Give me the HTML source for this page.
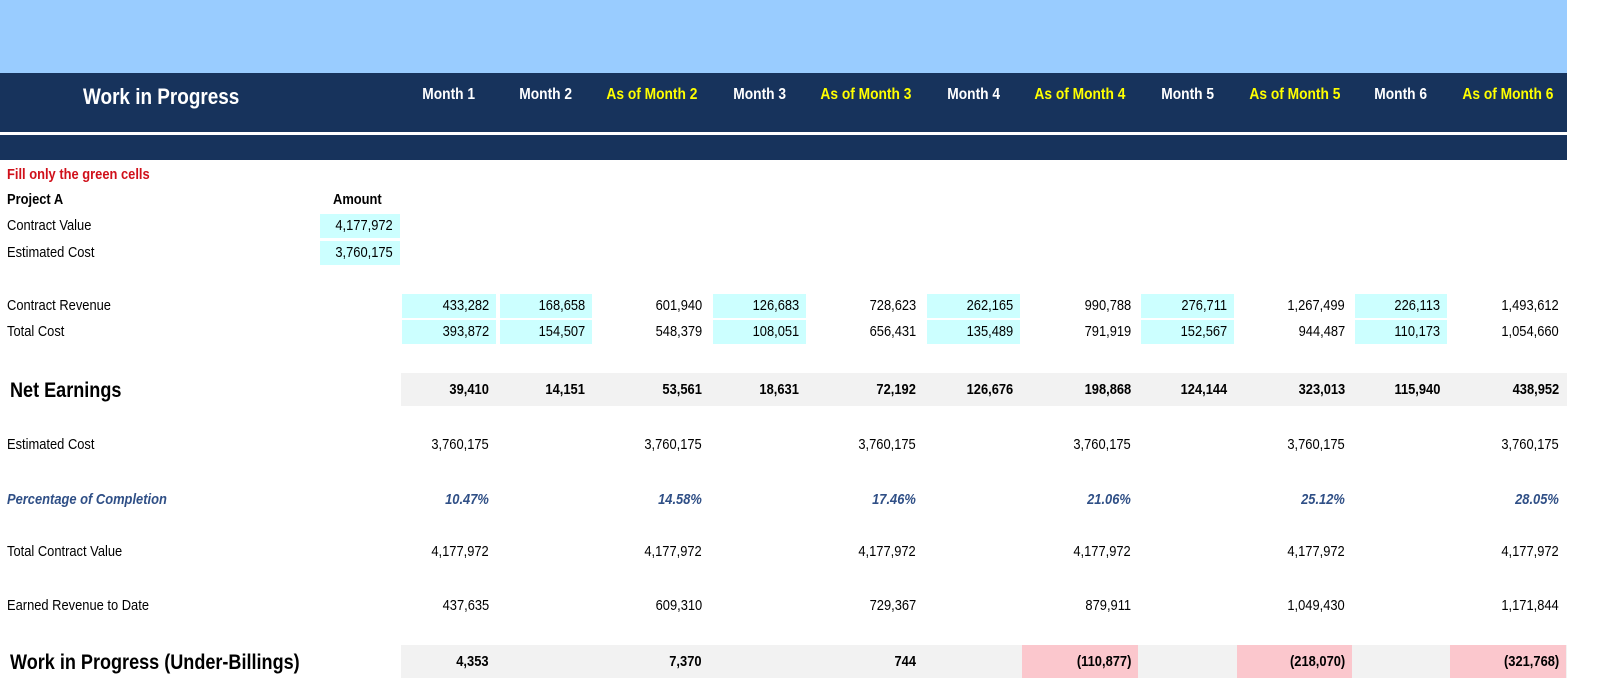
<!DOCTYPE html>
<html><head><meta charset="utf-8">
<style>
body{margin:0;width:1600px;height:694px;background:#fff;position:relative;overflow:hidden;font-family:"Liberation Sans Narrow","Liberation Sans",Arial,sans-serif;}
.a{position:absolute;white-space:nowrap;}
.c{position:absolute;font-size:15px;line-height:24px;text-align:right;box-sizing:border-box;padding-right:7px;color:#000;white-space:nowrap;}
.c span{display:inline-block;transform:scaleX(0.86);transform-origin:right center;}
.l{position:absolute;font-size:15px;color:#000;white-space:nowrap;transform:scaleX(0.86);transform-origin:left center;}
</style></head><body>
<div class="a" style="left:0;top:0;width:1567px;height:73px;background:#99ccff"></div>
<div class="a" style="left:0;top:73px;width:1567px;height:59px;background:#17335c"></div>
<div class="a" style="left:0;top:135px;width:1567px;height:25px;background:#17335c"></div>
<div class="a" style="left:83px;top:84px;font-size:22px;font-weight:bold;color:#fff;transform:scaleX(0.86);transform-origin:left center">Work in Progress</div>
<div class="l" style="left:7px;top:166px;color:#d0101a;font-weight:bold">Fill only the green cells</div>
<div class="l" style="left:7px;top:191px;font-weight:bold">Project A</div>
<div class="l" style="left:333px;top:191px;font-weight:bold">Amount</div>
<div class="l" style="left:7px;top:217px">Contract Value</div>
<div class="c" style="left:320px;top:214px;width:80px;background:#ccffff"><span>4,177,972</span></div>
<div class="l" style="left:7px;top:244px">Estimated Cost</div>
<div class="c" style="left:320px;top:241px;width:80px;background:#ccffff"><span>3,760,175</span></div>
<script>
var headers=["Month 1","Month 2","As of Month 2","Month 3","As of Month 3","Month 4","As of Month 4","Month 5","As of Month 5","Month 6","As of Month 6"];
var contractRevenue=["433,282","168,658","601,940","126,683","728,623","262,165","990,788","276,711","1,267,499","226,113","1,493,612"];
var totalCost=["393,872","154,507","548,379","108,051","656,431","135,489","791,919","152,567","944,487","110,173","1,054,660"];
var netEarnings=["39,410","14,151","53,561","18,631","72,192","126,676","198,868","124,144","323,013","115,940","438,952"];
var estCost=["3,760,175","","3,760,175","","3,760,175","","3,760,175","","3,760,175","","3,760,175"];
var pct=["10.47%","","14.58%","","17.46%","","21.06%","","25.12%","","28.05%"];
var tcv=["4,177,972","","4,177,972","","4,177,972","","4,177,972","","4,177,972","","4,177,972"];
var earned=["437,635","","609,310","","729,367","","879,911","","1,049,430","","1,171,844"];
var wip=["4,353","","7,370","","744","","(110,877)","","(218,070)","","(321,768)"];
var colL=[401,499,594,712,807,926,1021,1140,1236,1354,1449];
var colR=[497,593,710,807,924,1021,1139,1235,1353,1448,1567];
var root=document.body;
function cell(x,y,w,h,txt,st){var d=document.createElement('div');d.className='c';d.style.left=x+'px';d.style.top=y+'px';d.style.width=w+'px';d.style.height=h+'px';d.style.lineHeight=h+'px';for(var k in st)d.style[k]=st[k];var s=document.createElement('span');s.textContent=txt;d.appendChild(s);root.appendChild(d);return d;}
function lab(x,y,txt){var d=document.createElement('div');d.className='l';d.style.left=x+'px';d.style.top=y+'px';d.textContent=txt;root.appendChild(d);return d;}
headers.forEach(function(h,i){
 var d=document.createElement('div');d.className='a';
 
 
 d.style.left=colL[i]+'px';d.style.width=(colR[i]-colL[i])+'px';d.style.top='86px';d.style.textAlign='center';
 d.style.fontSize='16px';d.style.fontWeight='bold';d.style.color=(h.indexOf('As of')==0)?'#ffff00':'#fff';
 var s=document.createElement('span');s.style.display='inline-block';s.style.transform='scaleX(0.86)';s.textContent=h;d.appendChild(s);
 root.appendChild(d);
});
[[373,33],[645,33]].forEach(function(b){var d=document.createElement('div');d.className='a';
 
 
 d.style.left='401px';d.style.top=b[0]+'px';d.style.width='1166px';d.style.height=b[1]+'px';d.style.background='#f2f2f2';root.appendChild(d);});
var rows=[
 {name:'contract-revenue',label:'Contract Revenue',y:294,h:24,vals:contractRevenue,inp:true},
 {name:'total-cost',label:'Total Cost',y:320,h:24,vals:totalCost,inp:true},
 {name:'net-earnings',label:'Net Earnings',y:373,h:33,vals:netEarnings,bold:true,big:true},
 {name:'estimated-cost-row',label:'Estimated Cost',y:433,h:24,vals:estCost},
 {name:'percentage-completion',label:'Percentage of Completion',y:488,h:24,vals:pct,pct:true},
 {name:'total-contract-value',label:'Total Contract Value',y:540,h:24,vals:tcv},
 {name:'earned-revenue',label:'Earned Revenue to Date',y:594,h:24,vals:earned},
 {name:'work-in-progress',label:'Work in Progress (Under-Billings)',y:645,h:33,vals:wip,bold:true,big:true}
];
rows.forEach(function(r){
 var l=lab(7,r.y+3,r.label);
 
 
 if(r.big){l.style.fontSize='21px';l.style.fontWeight='bold';l.style.left='10px';l.style.top=(r.y+6)+'px';}
 if(r.pct){l.style.color='#2f4f86';l.style.fontWeight='bold';l.style.fontStyle='italic';}
 r.vals.forEach(function(v,i){
  if(v==='')return;
  var st={};
  var isInput=r.inp && (i==0||i%2==1);
  if(isInput)st.background='#ccffff';
  if(r.bold)st.fontWeight='bold';
  if(r.pct){st.color='#2f4f86';st.fontWeight='bold';st.fontStyle='italic';}
  if(r.name=='work-in-progress' && v.charAt(0)=='(')st.background='#fbc7cd';
  var w=colR[i]-colL[i];
  var d=cell(colL[i]+1,r.y,w-2,r.h,v,st);
  
  
 });
});
</script>
</body></html>
